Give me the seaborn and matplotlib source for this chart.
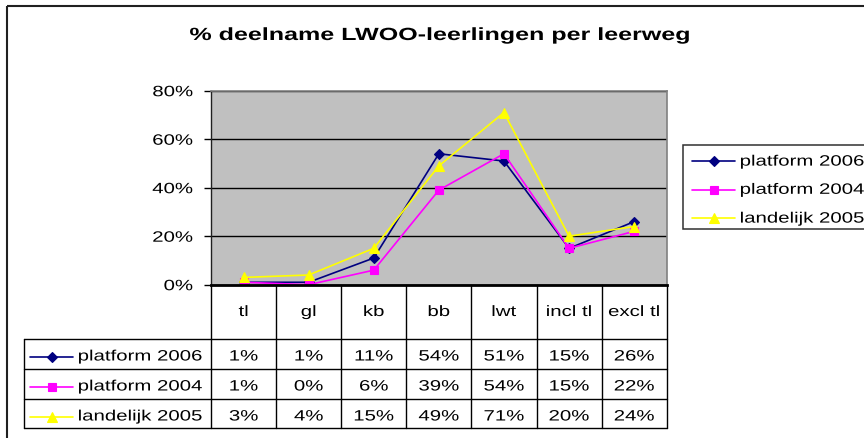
import numpy as np
import pandas as pd
import matplotlib
matplotlib.use("Agg")
import matplotlib.pyplot as plt
import matplotlib.colors as mcolors
import seaborn as sns
from matplotlib.patheffects import AbstractPathEffect
from matplotlib.transforms import Affine2D, blended_transform_factory
from matplotlib.lines import Line2D
from matplotlib.patches import Rectangle

# ---------------- data ----------------
categories = ["tl", "gl", "kb", "bb", "lwt", "incl tl", "excl tl"]
platform_2006 = [1, 1, 11, 54, 51, 15, 26]
platform_2004 = [1, 0, 6, 39, 54, 15, 22]
landelijk_2005 = [3, 4, 15, 49, 71, 20, 24]
series_names = ["platform 2006", "platform 2004", "landelijk 2005"]
y_ticks = [0, 20, 40, 60, 80]
title = "% deelname LWOO-leerlingen per leerweg"

series_values = {
    "platform 2006": platform_2006,
    "platform 2004": platform_2004,
    "landelijk 2005": landelijk_2005,
}

# ---------------- styles ----------------
colors = {"platform 2006": "#000080", "platform 2004": "#FF00FF", "landelijk 2005": "#FFFF00"}
markers = {"platform 2006": "D", "platform 2004": "s", "landelijk 2005": "^"}
msizes = {"platform 2006": 5.0, "platform 2004": 6.0, "landelijk 2005": 7.5}

FS = 10.8
SX = 1.36


class HStretch(AbstractPathEffect):
    """Stretch text horizontally around an anchor (mimics the wide source font)."""

    def __init__(self, sx, anchor="center"):
        super().__init__()
        self.sx = sx
        self.anchor = anchor

    def draw_path(self, renderer, gc, tpath, affine, rgbFace=None):
        ext = tpath.get_extents(affine)
        if self.anchor == "left":
            x0 = ext.x0
        elif self.anchor == "right":
            x0 = ext.x1
        else:
            x0 = 0.5 * (ext.x0 + ext.x1)
        t = affine + Affine2D().translate(-x0, 0).scale(self.sx, 1).translate(x0, 0)
        renderer.draw_path(gc, tpath, t, rgbFace)


sns.set_theme(style="white")
plt.rcParams["font.family"] = ["Liberation Sans", "DejaVu Sans"]

W, H = 864, 439
fig = plt.figure(figsize=(W / 100, H / 100), dpi=100)
fig.patch.set_facecolor("white")
pix = Affine2D().scale(1 / W, -1 / H).translate(0, 1) + fig.transFigure


def px_rect(l, t, r, b):
    return [l / W, 1 - b / H, (r - l) / W, (b - t) / H]


AX_L, AX_T, AX_R, AX_B = 211, 91.7, 666.7, 285.7
ax = fig.add_axes(px_rect(AX_L, AX_T, AX_R, AX_B))
ax.set_facecolor("#C0C0C0")

df = pd.DataFrame({
    "leerweg": categories * len(series_names),
    "pct": platform_2006 + platform_2004 + landelijk_2005,
    "series": np.repeat(series_names, len(categories)),
})

sns.lineplot(data=df, x="leerweg", y="pct", hue="series", style="series",
             hue_order=series_names, style_order=series_names,
             palette=colors, markers=markers, dashes=False, sort=False,
             legend=False, ax=ax, linewidth=1.2, errorbar=None)

hex2name = {mcolors.to_hex(c).lower(): n for n, c in colors.items()}
for i, line in enumerate(ax.lines):
    name = hex2name.get(mcolors.to_hex(line.get_color()).lower())
    if name is None:
        continue
    line.set_markeredgecolor(colors[name])
    line.set_markerfacecolor(colors[name])
    line.set_markeredgewidth(0.8)
    line.set_markersize(msizes[name])
    line.set_zorder(3 + series_names.index(name))

ax.set_xlim(-0.5, len(categories) - 0.5)
ax.set_ylim(0, 80)
ax.set_yticks(y_ticks)
ax.set_yticklabels([f"{t}%" for t in y_ticks])
ax.set_xticks([])
ax.set_xlabel("")
ax.set_ylabel("")
ax.yaxis.grid(True, color="black", linewidth=1.0)
ax.set_axisbelow(True)
ax.tick_params(axis="y", left=True, length=5, width=1, color="black",
               pad=8, labelsize=FS, labelcolor="black")
for lab in ax.get_yticklabels():
    lab.set_path_effects([HStretch(SX, "right")])

for s in ["top", "right"]:
    ax.spines[s].set_color("#808080")
    ax.spines[s].set_linewidth(1.2)
ax.spines["left"].set_color("#202020")
ax.spines["left"].set_linewidth(1.0)
ax.spines["bottom"].set_color("black")
ax.spines["bottom"].set_linewidth(2.0)
ax.spines["bottom"].set_zorder(6)

# ---------------- title ----------------
fig.text(440.5, 41, title, transform=pix, ha="center", va="baseline",
         fontsize=12.7, fontweight="bold", color="black",
         path_effects=[HStretch(1.42, "center")])

# ---------------- data table ----------------
bt = blended_transform_factory(ax.transData, pix)
TAB_L, HDR_B = 24, 340
row_tops = [340, 370, 400]
TAB_B = 429
lc = "black"

for i in range(len(categories) + 1):
    fig.add_artist(Line2D([i - 0.5, i - 0.5], [AX_B, TAB_B], transform=bt, color=lc, lw=1.0))
for y in row_tops + [TAB_B]:
    fig.add_artist(Line2D([TAB_L, AX_R], [y, y], transform=pix, color=lc, lw=1.0))
fig.add_artist(Line2D([TAB_L, TAB_L], [HDR_B, TAB_B], transform=pix, color=lc, lw=1.0))

for i, c in enumerate(categories):
    ax.text(i, 317, c, transform=bt, ha="center", va="baseline", fontsize=FS,
            color="black", path_effects=[HStretch(SX, "center")])


def draw_key(x0, x1, y, name):
    fig.add_artist(Line2D([x0, (x0 + x1) / 2, x1], [y, y, y], transform=pix,
                          color=colors[name], lw=1.2, marker=markers[name], markevery=[1],
                          ms=msizes[name] * 0.95, mec=colors[name], mfc=colors[name], mew=0.8))


for r, name in enumerate(series_names):
    top = row_tops[r]
    draw_key(30, 73, top + 18, name)
    fig.text(78, top + 21.5, name, transform=pix, ha="left", va="baseline",
             fontsize=FS, color="black", path_effects=[HStretch(SX, "left")])
    for i, v in enumerate(series_values[name]):
        ax.text(i, top + 21.5, f"{v}%", transform=bt, ha="center", va="baseline",
                fontsize=FS, color="black", path_effects=[HStretch(SX, "center")])

# ---------------- legend (right) ----------------
fig.add_artist(Rectangle((683, 146), 300, 84, transform=pix, facecolor="white",
                         edgecolor="#303030", lw=1.1, zorder=1))
leg_y = [162.3, 190.5, 219.3]
for name, y in zip(series_names, leg_y):
    draw_key(692, 735, y, name)
    fig.text(740, y + 4.3, name, transform=pix, ha="left", va="baseline",
             fontsize=FS, color="black", zorder=3, path_effects=[HStretch(SX, "left")])

# ---------------- outer border ----------------
fig.add_artist(Rectangle((7, 7), 1000, 1000, transform=pix, facecolor="none",
                         edgecolor="#202020", lw=1.5, zorder=0))

fig.savefig("out.png", dpi=100)
